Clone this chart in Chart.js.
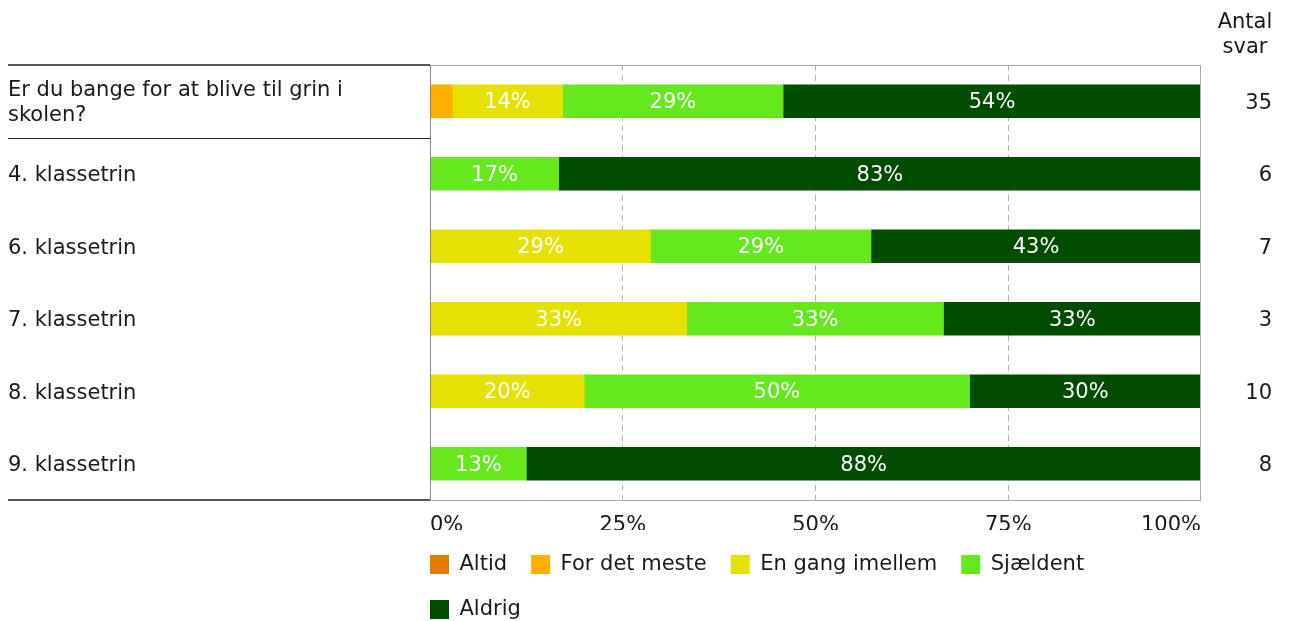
<!DOCTYPE html>
<html lang="da">
<head>
<meta charset="utf-8">
<title>Er du bange for at blive til grin i skolen?</title>
<script src="https://cdn.jsdelivr.net/npm/chart.js@4/dist/chart.umd.min.js"></script>
<style>
    html, body { margin: 0; padding: 0; background: #fff; }
    #wrap { position: relative; width: 1289px; height: 621px; }
</style>
</head>
<body>
<div id="wrap"><canvas id="chart"></canvas></div>
<script>
// Data (percent of answers per row)
const categories = [
    ['Er du bange for at blive til grin i', 'skolen?'],
    '4. klassetrin',
    '6. klassetrin',
    '7. klassetrin',
    '8. klassetrin',
    '9. klassetrin'
];
const antalSvar = [35, 6, 7, 3, 10, 8];

const altid       = [0, 0, 0, 0, 0, 0];
const forDetMeste = [2.9, 0, 0, 0, 0, 0];
const enGang      = [14.3, 0, 28.6, 33.3, 20, 0];
const sjaeldent   = [28.6, 16.7, 28.6, 33.3, 50, 12.5];
const aldrig      = [54.2, 83.3, 42.8, 33.4, 30, 87.5];

const xTicks = [0, 25, 50, 75, 100];

const FONT = 'DejaVu Sans, Verdana, sans-serif';
const TEXT = '#1a1a1a';

function makeSet(label, data, color) {
    return {
        label: label,
        data: data,
        backgroundColor: color,
        borderColor: color,
        borderWidth: 0,
        barThickness: 33
    };
}

// draws the frame, the separator lines on the left, value labels and the "Antal svar" header
const extras = {
    id: 'extras',
    afterLayout(chart) {
        // legend starts flush with the plot area like in the original
        const lg = chart.legend;
        if (lg) lg.left = chart.chartArea.left - lg.options.labels.padding;
    },
    afterDatasetsDraw(chart) {
        const ctx = chart.ctx;
        const area = chart.chartArea;
        const yScale = chart.scales.y;

        ctx.save();
        // value labels inside the bars
        ctx.font = '21px ' + FONT;
        ctx.fillStyle = '#fff';
        ctx.textAlign = 'center';
        ctx.textBaseline = 'middle';
        chart.data.datasets.forEach((ds, i) => {
            const meta = chart.getDatasetMeta(i);
            meta.data.forEach((bar, j) => {
                const v = ds.data[j];
                if (v < 5) return;
                const p = bar.getProps(['x', 'y', 'base'], true);
                ctx.fillText(Math.round(v) + '%', (p.x + p.base) / 2, p.y + 1.5);
            });
        });

        // plot frame
        ctx.lineWidth = 1;
        ctx.strokeStyle = '#a8a8a8';
        ctx.strokeRect(area.left + 0.5, area.top + 0.5, area.right - area.left - 1, area.bottom - area.top);
        ctx.strokeStyle = '#888';
        ctx.beginPath();
        ctx.moveTo(area.left + 0.5, area.top);
        ctx.lineTo(area.left + 0.5, area.bottom);
        ctx.stroke();

        // horizontal rules on the label side
        const x0 = chart.options.layout.padding.left;
        ctx.strokeStyle = '#555';
        ctx.lineWidth = 2;
        ctx.beginPath();
        ctx.moveTo(x0, area.top);
        ctx.lineTo(area.left, area.top);
        ctx.moveTo(x0, area.bottom);
        ctx.lineTo(area.left, area.bottom);
        ctx.stroke();

        const mid = (yScale.getPixelForTick(0) + yScale.getPixelForTick(1)) / 2;
        ctx.strokeStyle = '#222';
        ctx.lineWidth = 1;
        ctx.beginPath();
        ctx.moveTo(x0, Math.round(mid) + 0.5);
        ctx.lineTo(area.left, Math.round(mid) + 0.5);
        ctx.stroke();

        // header above the count column
        ctx.font = '21px ' + FONT;
        ctx.fillStyle = TEXT;
        ctx.textAlign = 'center';
        ctx.textBaseline = 'alphabetic';
        ctx.fillText('Antal', 1245, 28);
        ctx.fillText('svar', 1245, 53);
        ctx.restore();
    }
};

const ctx = document.getElementById('chart').getContext('2d');
new Chart(ctx, {
    type: 'bar',
    data: {
        labels: categories,
        datasets: [
            makeSet('Altid', altid, '#e27b00'),
            makeSet('For det meste', forDetMeste, '#ffb000'),
            makeSet('En gang imellem', enGang, '#e6e100'),
            makeSet('Sjældent', sjaeldent, '#66e81e'),
            makeSet('Aldrig', aldrig, '#004d00')
        ]
    },
    options: {
        indexAxis: 'y',
        responsive: true,
        maintainAspectRatio: false,
        animation: false,
        layout: {
            padding: { left: 8, right: 17, top: 65, bottom: 0 }
        },
        scales: {
            x: {
                stacked: true,
                min: 0,
                max: 100,
                afterBuildTicks: (scale) => {
                    scale.ticks = xTicks.map(v => ({ value: v }));
                },
                afterFit: (scale) => { scale.height = 30; },
                ticks: {
                    align: 'inner',
                    padding: 13,
                    color: TEXT,
                    font: { family: FONT, size: 21 },
                    callback: (v) => v + '%'
                },
                grid: {
                    drawTicks: false,
                    color: (c) => (c.tick && (c.tick.value === 0 || c.tick.value === 100)) ? 'rgba(0,0,0,0)' : '#b4b4b4'
                },
                border: { display: false, dash: [6, 4] }
            },
            y: {
                stacked: true,
                afterFit: (scale) => { scale.width = 422; },
                ticks: {
                    crossAlign: 'far',
                    padding: 0,
                    labelOffset: 2,
                    color: TEXT,
                    font: { family: FONT, size: 21, lineHeight: 1.2 }
                },
                grid: { display: false },
                border: { display: false }
            },
            y2: {
                type: 'category',
                position: 'right',
                labels: antalSvar.map(String),
                offset: true,
                afterFit: (scale) => { scale.width = 71; },
                ticks: {
                    crossAlign: 'far',
                    padding: 0,
                    labelOffset: 2,
                    color: TEXT,
                    font: { family: FONT, size: 21 }
                },
                grid: { display: false },
                border: { display: false }
            }
        },
        plugins: {
            legend: {
                position: 'bottom',
                align: 'start',
                fullSize: false,
                maxHeight: 91,
                labels: {
                    boxWidth: 19,
                    boxHeight: 19,
                    padding: 24,
                    color: TEXT,
                    font: { family: FONT, size: 21 }
                }
            },
            tooltip: { enabled: false }
        }
    },
    plugins: [extras]
});
</script>
</body>
</html>
